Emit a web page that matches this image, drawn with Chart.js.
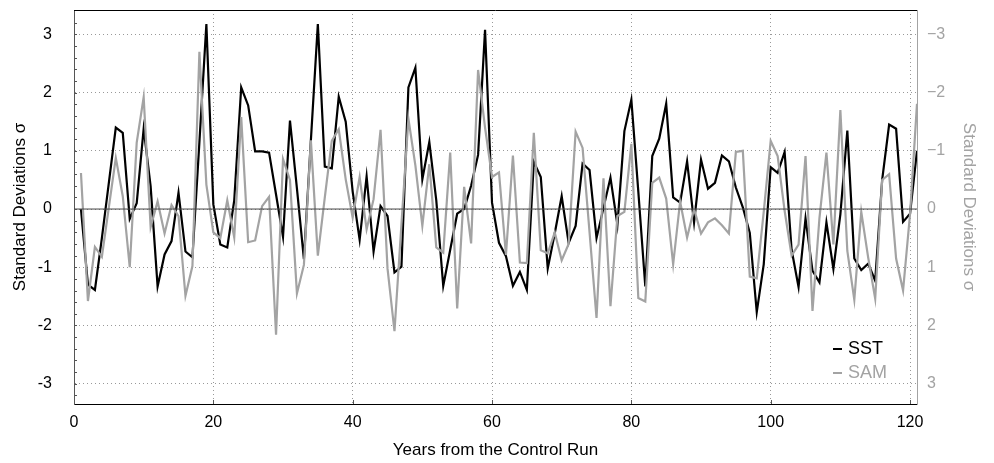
<!DOCTYPE html>
<html>
<head>
<meta charset="utf-8">
<script src="https://cdn.jsdelivr.net/npm/chart.js@4.4.1/dist/chart.umd.min.js"></script>
<style>
  html, body { margin: 0; padding: 0; background: #fff; }
  #wrap { width: 994px; height: 463px; }
</style>
</head>
<body>
<div id="wrap"><canvas id="chart" width="994" height="463"></canvas></div>
<script>
// years 1..121 of the control run
const years = Array.from({ length: 121 }, (_, i) => i + 1);

const sst = [
  0.0, -1.3, -1.39, -0.5, 0.45, 1.4, 1.31, -0.17, 0.1, 1.38,
  0.39, -1.33, -0.78, -0.55, 0.28, -0.73, -0.83, 1.15, 3.18, 0.08,
  -0.61, -0.66, 0.15, 2.09, 1.78, 0.99, 0.99, 0.97, 0.25, -0.48,
  1.52, 0.35, -0.86, 1.18, 3.18, 0.73, 0.7, 1.93, 1.5, 0.3,
  -0.53, 0.56, -0.73, 0.05, -0.12, -1.09, -0.99, 2.09, 2.43, 0.51,
  1.15, 0.15, -1.32, -0.7, -0.08, 0.0, 0.4, 0.93, 3.08, 0.11,
  -0.58, -0.81, -1.32, -1.08, -1.39, 0.81, 0.55, -1.02, -0.42, 0.22,
  -0.58, -0.29, 0.78, 0.67, -0.5, 0.02, 0.54, -0.27, 1.34, 1.88,
  0.3, -1.33, 0.91, 1.21, 1.81, 0.2, 0.11, 0.82, -0.23, 0.85,
  0.35, 0.45, 0.92, 0.82, 0.37, 0.03, -0.41, -1.77, -0.95, 0.72,
  0.62, 0.98, -0.7, -1.34, -0.16, -1.06, -1.26, -0.23, -1.03, -0.09,
  1.35, -0.85, -1.05, -0.94, -1.23, 0.5, 1.45, 1.38, -0.22, -0.08,
  1.0
];

// SAM index, drawn against the reversed right axis
const sam = [
  -0.62, 1.58, 0.65, 0.82, -0.03, -0.88, -0.22, 1.0, -1.14, -1.92,
  0.31, -0.13, 0.42, -0.07, 0.12, 1.49, 0.98, -2.7, -0.42, 0.4,
  0.5, -0.15, 0.49, -1.58, 0.57, 0.54, -0.05, -0.21, 2.16, -0.86,
  -0.5, 1.45, 0.96, -1.18, 0.8, -0.2, -1.17, -1.37, -0.51, 0.15,
  -0.55, 0.35, -0.17, -1.36, 1.02, 2.1, 0.26, -1.55, -0.75, 0.29,
  -0.77, 0.66, 0.75, -0.97, 1.71, -0.38, 0.59, -2.39, -1.4, -0.55,
  -0.63, 0.79, -0.92, 0.92, 0.93, -1.31, 0.71, 0.76, 0.4, 0.88,
  0.6, -1.33, -1.05, 0.4, 1.87, -0.53, 1.67, 0.12, 0.05, -1.12,
  1.53, 1.59, -0.45, -0.54, -0.18, 0.95, -0.13, 0.49, 0.0, 0.42,
  0.23, 0.16, 0.28, 0.42, -0.98, -1.0, 1.16, 1.19, 0.05, -1.17,
  -0.91, 0.03, 0.8, 0.61, -0.91, 1.75, 0.15, -0.97, 0.61, -1.7,
  0.72, 1.56, 0.05, 0.84, 1.54, -0.5, -0.6, 0.85, 1.4, 0.09,
  -1.81
];

const yTicks = [-3, -2, -1, 0, 1, 2, 3];
const xTicks = [0, 20, 40, 60, 80, 100, 120];

const FONT = "'Liberation Sans', Arial, Helvetica, sans-serif";
const GRAY = "#a3a3a3";

function keepTicks(list) {
  return (scale) => {
    scale.ticks = list.map((v) => ({ value: v }));
  };
}

function fitBox(size) {
  return (s) => {
    if (s.isHorizontal()) s.height = size;
    else s.width = size;
    s.paddingTop = 0;
    s.paddingBottom = 0;
    s.paddingLeft = 0;
    s.paddingRight = 0;
  };
}

const legendPlugin = {
  id: "insideLegend",
  afterDraw(chart) {
    const { ctx, chartArea } = chart;
    ctx.save();
    // top frame line
    ctx.strokeStyle = "#000";
    ctx.lineWidth = 1;
    ctx.beginPath();
    ctx.moveTo(chartArea.left, chartArea.top + 0.5);
    ctx.lineTo(chartArea.right, chartArea.top + 0.5);
    ctx.stroke();

    // small inward minor ticks on the left and bottom axes
    const y = chart.scales.y;
    const x = chart.scales.x;
    ctx.strokeStyle = "#555";
    for (let v = -3.2; v <= 3.4; v += 0.2) {
      const py = Math.round(y.getPixelForValue(v)) + 0.5;
      ctx.beginPath();
      ctx.moveTo(chartArea.left, py);
      ctx.lineTo(chartArea.left + 3, py);
      ctx.stroke();
    }
    xTicks.forEach((v) => {
      const px = Math.round(x.getPixelForValue(v)) + 0.5;
      ctx.beginPath();
      ctx.moveTo(px, chartArea.bottom);
      ctx.lineTo(px, chartArea.bottom - 4);
      ctx.stroke();
    });

    const items = [
      { text: "SST", color: "#000", y: 349 },
      { text: "SAM", color: GRAY, y: 373 },
    ];
    ctx.font = "18px " + FONT;
    ctx.textBaseline = "middle";
    items.forEach((it) => {
      ctx.strokeStyle = it.color;
      ctx.lineWidth = 2;
      ctx.beginPath();
      ctx.moveTo(833, it.y);
      ctx.lineTo(842, it.y);
      ctx.stroke();
      ctx.fillStyle = it.color;
      ctx.fillText(it.text, 848, it.y);
    });
    ctx.restore();
  },
};

new Chart(document.getElementById("chart"), {
  type: "line",
  data: {
    datasets: [
      {
        label: "zero",
        data: [{ x: 0, y: 0 }, { x: 121, y: 0 }],
        borderColor: "#444",
        borderWidth: 1,
        pointRadius: 0,
        yAxisID: "y",
      },
      {
        label: "SAM",
        data: sam.map((v, i) => ({ x: years[i], y: v })),
        borderColor: GRAY,
        borderWidth: 2.2,
        pointRadius: 0,
        tension: 0,
        yAxisID: "y2",
      },
      {
        label: "SST",
        data: sst.map((v, i) => ({ x: years[i], y: v })),
        borderColor: "#000",
        borderWidth: 2.2,
        pointRadius: 0,
        tension: 0,
        yAxisID: "y",
      },
    ],
  },
  options: {
    responsive: false,
    animation: false,
    layout: { padding: { top: 10, left: 0, right: 0, bottom: 0 } },
    plugins: {
      legend: { display: false },
      tooltip: { enabled: false },
    },
    scales: {
      x: {
        type: "linear",
        min: 0,
        max: 121,
        afterBuildTicks: keepTicks(xTicks),
        afterFit: fitBox(59),
        grid: { color: "#999", lineWidth: 1, drawTicks: false },
        border: { color: "#000", width: 1, dash: [1, 3] },
        ticks: { color: "#000", font: { family: FONT, size: 16 }, padding: 9 },
        title: {
          display: true,
          text: "Years from the Control Run",
          color: "#000",
          font: { family: FONT, size: 17 },
          padding: { top: 0, bottom: 2 },
        },
      },
      y: {
        position: "left",
        min: -3.35,
        max: 3.42,
        afterBuildTicks: keepTicks(yTicks),
        afterFit: fitBox(74),
        grid: { color: "#999", lineWidth: 1, drawTicks: false },
        border: { color: "#555", width: 1, dash: [1, 3] },
        ticks: { color: "#000", font: { family: FONT, size: 16 }, padding: 22 },
        title: {
          display: true,
          text: "Standard Deviations σ",
          color: "#000",
          font: { family: FONT, size: 17 },
          padding: { top: 10, bottom: 0 },
        },
      },
      y2: {
        position: "right",
        reverse: true,
        min: -3.42,
        max: 3.35,
        afterBuildTicks: keepTicks(yTicks),
        afterFit: fitBox(77),
        grid: { drawOnChartArea: false, drawTicks: false },
        border: { color: GRAY, width: 1 },
        ticks: {
          color: GRAY,
          font: { family: FONT, size: 16 },
          padding: 10,
          callback: (v) => String(v).replace("-", "\u2212"),
        },
        title: {
          display: true,
          text: "Standard Deviations σ",
          color: GRAY,
          font: { family: FONT, size: 17 },
          padding: { top: 15, bottom: 0 },
        },
      },
    },
  },
  plugins: [legendPlugin],
});
</script>
</body>
</html>
